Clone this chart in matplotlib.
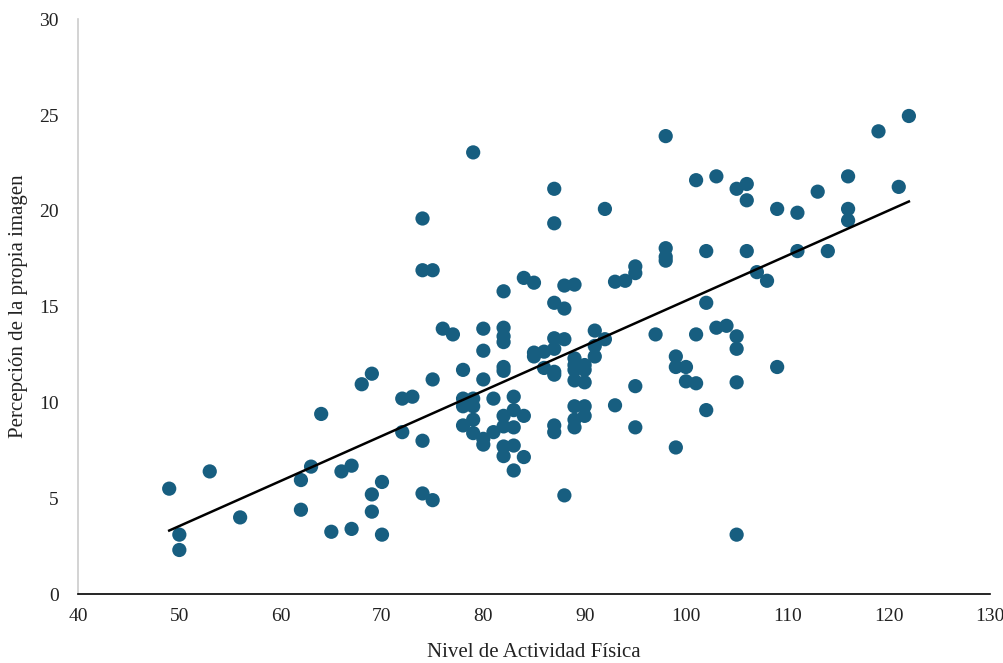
import numpy as np
import matplotlib
matplotlib.use("Agg")
import matplotlib.pyplot as plt

actividad = [49, 50, 50, 53, 56, 62, 62, 63, 64, 65, 66, 67, 67, 68, 69, 69, 69, 70, 70,
             72, 72, 73, 74, 74, 74, 74, 75, 75, 75, 76, 77,
             78, 78, 78, 78, 79, 79, 79, 79, 79, 80, 80, 80, 80, 80, 81, 81,
             82, 82, 82, 82, 82, 82, 82, 82, 82, 82, 83, 83, 83, 83, 83, 84, 84, 84,
             85, 85, 85, 86, 86, 87, 87, 87, 87, 87, 87, 87, 87, 87, 88, 88, 88, 88,
             89, 89, 89, 89, 89, 89, 89, 89, 90, 90, 90, 90, 90, 91, 91, 91, 92, 92,
             93, 93, 94, 95, 95, 95, 95, 97, 98, 98, 98, 98, 99, 99, 99, 100, 100,
             101, 101, 101, 102, 102, 102, 103, 103, 104, 105, 105, 105, 105, 105,
             106, 106, 106, 107, 108, 109, 109, 111, 111, 113, 114, 116, 116, 116,
             119, 121, 122]
imagen = [5.5, 3.1, 2.3, 6.4, 4.0, 5.95, 4.4, 6.65, 9.4, 3.25, 6.4, 6.7, 3.4, 10.95, 11.5, 5.2, 4.3, 5.85, 3.1,
          10.2, 8.45, 10.3, 19.6, 16.9, 8.0, 5.25, 16.9, 11.2, 4.9, 13.85, 13.55,
          11.7, 10.2, 9.8, 8.8, 23.05, 10.2, 9.8, 9.1, 8.4, 13.85, 12.7, 11.2, 8.1, 7.8, 8.45, 10.2,
          15.8, 13.9, 13.45, 13.15, 11.85, 11.65, 9.3, 8.75, 7.7, 7.2, 10.3, 9.6, 8.7, 7.75, 6.45, 9.3, 7.15, 16.5,
          16.25, 12.6, 12.4, 12.65, 11.8, 21.15, 19.35, 15.2, 13.35, 12.8, 11.6, 11.45, 8.8, 8.45, 16.1, 14.9, 13.3, 5.15,
          16.15, 12.3, 11.95, 11.7, 11.15, 9.8, 9.1, 8.7, 11.95, 11.7, 11.05, 9.8, 9.3, 13.75, 12.95, 12.4, 20.1, 13.3,
          16.3, 9.85, 16.35, 17.1, 16.75, 10.85, 8.7, 13.55, 23.9, 18.05, 17.6, 17.4, 12.4, 11.85, 7.65, 11.85, 11.1,
          21.6, 13.55, 11.0, 17.9, 15.2, 9.6, 21.8, 13.9, 14.0, 21.15, 13.45, 12.8, 11.05, 3.1,
          21.4, 20.55, 17.9, 16.8, 16.35, 20.1, 11.85, 19.9, 17.9, 21.0, 17.9, 21.8, 20.1, 19.5,
          24.15, 21.25, 24.95]

x_ticks = [40, 50, 60, 70, 80, 90, 100, 110, 120, 130]
y_ticks = [0, 5, 10, 15, 20, 25, 30]

x = np.array(actividad, dtype=float)
y = np.array(imagen, dtype=float)
slope, intercept = np.polyfit(x, y, 1)
xl = np.array([x.min(), x.max()])

plt.rcParams['font.family'] = ['Liberation Serif', 'DejaVu Serif']

fig = plt.figure(figsize=(10.04, 6.63), dpi=100)
ax = fig.add_axes([0.0777, 0.104, 0.9083, 0.867])

ax.scatter(x, y, s=105, color='#175E80', edgecolors='none', zorder=3)
ax.plot(xl, slope * xl + intercept, color='black', lw=1.8, zorder=4)

ax.set_xlim(40, 130)
ax.set_ylim(0, 30)
ax.set_xticks(x_ticks)
ax.set_yticks(y_ticks)
ax.tick_params(length=0, labelsize=14, colors='#222222', pad=10)
ax.tick_params(axis='y', pad=14)
for s in ['top', 'right']:
    ax.spines[s].set_visible(False)
ax.spines['left'].set_color('#cccccc')
ax.spines['left'].set_linewidth(1.2)
ax.spines['bottom'].set_color('black')
ax.spines['bottom'].set_linewidth(1.2)

ax.set_xlabel('Nivel de Actividad Física', fontsize=15, color='#222222', labelpad=13)
ax.set_ylabel('Percepción de la propia imagen', fontsize=15, color='#222222', labelpad=8)

fig.savefig('out.png', dpi=100)
